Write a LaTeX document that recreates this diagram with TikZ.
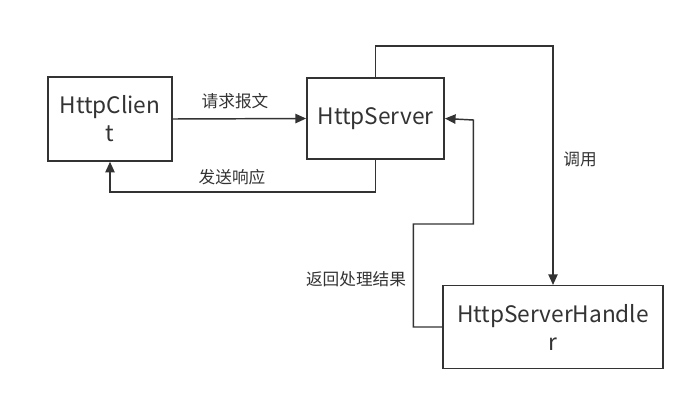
\documentclass[tikz,border=0pt]{standalone}
\usepackage{fontspec}
\setmainfont{Noto Sans CJK SC}
\usetikzlibrary{arrows.meta}
\usepackage{xcolor}
\definecolor{ink}{HTML}{333333}

\begin{document}
\begin{tikzpicture}[x=0.75pt, y=-0.75pt,
 box/.style={draw=ink, line width=1.1pt, text=ink, align=center, inner sep=0, font=\fontsize{17}{21}\selectfont},
 link/.style={draw=ink, line width=1.1pt, ->, >={Triangle[length=8pt,width=7pt]}},
 lbl/.style={text=ink, inner sep=1, font=\fontsize{12.5}{15}\selectfont}]
\useasboundingbox (0,0) rectangle (698,400);
\node[box, minimum width=93pt, minimum height=63pt] (client) at (110,119) {HttpClien\\t};
\node[box, minimum width=103pt, minimum height=61pt] (server) at (375.5,118.5) {HttpServer};
\node[box, minimum width=165pt, minimum height=62pt] (handler) at (553,327) {HttpServerHandle\\r};
% requests and replies
\draw[link] (client.east) -- (server.west);
\draw[link] (server.south) -- ++(0,32) -| (client.south);
\draw[link] (server.north) -- ++(0,-31) -| (handler.north);
\draw[link] (handler.west) -| ++(-29,-103) -| ++(60,-104) -- (server.east);
\node[lbl] (reqlbl) at (235,101) {请求报文};
\node[lbl] (resplbl) at (232,177) {发送响应};
\node[lbl] (calllbl) at (580,159) {调用};
\node[lbl] (retlbl) at (356,279) {返回处理结果};
\end{tikzpicture}
\end{document}
